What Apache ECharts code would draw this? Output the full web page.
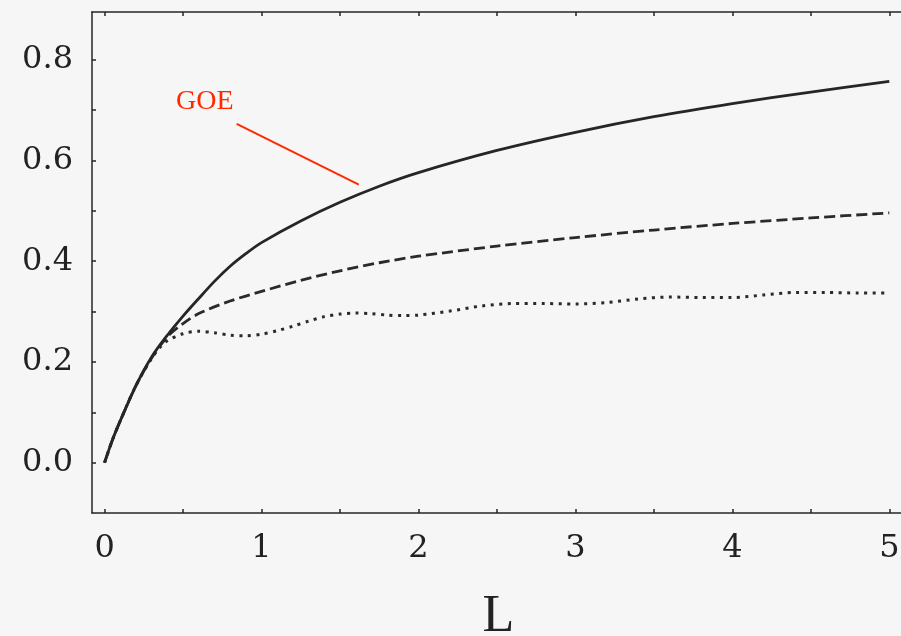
<!DOCTYPE html>
<html>
<head>
<meta charset="utf-8">
<script src="https://cdn.jsdelivr.net/npm/echarts@6/dist/echarts.min.js"></script>
<style>
  html, body { margin: 0; padding: 0; background: #f6f6f6; }
  #chart { width: 901px; height: 636px; }
</style>
</head>
<body>
<div id="chart"></div>
<script>
// L on x, variance on y
const goeL = [0, 0.05, 0.1, 0.2, 0.3, 0.4, 0.5, 0.6, 0.7, 0.8, 0.9, 1.0, 1.25, 1.5, 1.75, 2.0, 2.5, 3.0, 3.5, 4.0, 4.5, 5.0];
const goeV = [0, 0.045, 0.083, 0.153, 0.21, 0.253, 0.291, 0.326, 0.36, 0.39, 0.415, 0.437, 0.48, 0.517, 0.549, 0.576, 0.62, 0.656, 0.687, 0.713, 0.736, 0.757];

const dashL = [0, 0.05, 0.1, 0.2, 0.3, 0.4, 0.5, 0.6, 0.8, 1.0, 1.25, 1.5, 1.75, 2.0, 2.5, 3.0, 3.5, 4.0, 4.5, 5.0];
const dashV = [0, 0.045, 0.083, 0.153, 0.208, 0.25, 0.276, 0.296, 0.321, 0.34, 0.362, 0.381, 0.397, 0.41, 0.43, 0.447, 0.462, 0.475, 0.486, 0.496];

const dotL = [0, 0.05, 0.1, 0.2, 0.3, 0.35, 0.4, 0.5, 0.6, 0.7, 0.8, 0.9, 1.0, 1.1, 1.2, 1.3, 1.4, 1.5, 1.6, 1.7, 1.8, 1.9, 2.0, 2.2, 2.4, 2.6, 2.8, 3.0, 3.2, 3.4, 3.6, 3.8, 4.0, 4.2, 4.4, 4.6, 4.8, 5.0];
const dotV = [0, 0.045, 0.083, 0.153, 0.207, 0.228, 0.242, 0.256, 0.261, 0.258, 0.253, 0.252, 0.255, 0.262, 0.271, 0.281, 0.29, 0.295, 0.297, 0.296, 0.293, 0.292, 0.293, 0.301, 0.311, 0.316, 0.316, 0.315, 0.318, 0.325, 0.329, 0.328, 0.328, 0.333, 0.338, 0.338, 0.337, 0.337];

const xTicks = [0, 0.5, 1, 1.5, 2, 2.5, 3, 3.5, 4, 4.5, 5];
const xLabels = [0, 1, 2, 3, 4, 5];
const yTicks = [0, 0.1, 0.2, 0.3, 0.4, 0.5, 0.6, 0.7, 0.8];
const yLabels = [0, 0.2, 0.4, 0.6, 0.8];

const zip = (xs, ys) => xs.map((x, i) => [x, ys[i]]);

const ink = "#262626";
const labelFont = { fontFamily: "DejaVu Serif", fontSize: 32, color: "#222" };

const chart = echarts.init(document.getElementById("chart"), null, { renderer: "canvas" });

chart.setOption({
  backgroundColor: "#f6f6f6",
  animation: false,
  grid: { left: 92, right: -4, top: 12, bottom: 123, outerBoundsMode: "none", containLabel: false },
  xAxis: [
    {
      type: "value",
      min: -0.08,
      max: 5.1,
      position: "bottom",
      name: "L",
      nameLocation: "middle",
      nameGap: 78,
      nameTextStyle: { fontFamily: "Liberation Serif", fontSize: 52, color: "#222" },
      axisLine: { show: true, onZero: false, lineStyle: { color: ink, width: 1.5 } },
      axisTick: { inside: true, length: 4, customValues: xTicks, lineStyle: { color: ink, width: 1.5 } },
      axisLabel: { customValues: xLabels, margin: 20, ...labelFont },
      splitLine: { show: false },
    },
    {
      type: "value",
      min: -0.08,
      max: 5.1,
      position: "top",
      axisLine: { show: true, onZero: false, lineStyle: { color: ink, width: 1.5 } },
      axisTick: { inside: true, length: 4, customValues: xTicks, lineStyle: { color: ink, width: 1.5 } },
      axisLabel: { show: false },
      splitLine: { show: false },
    },
  ],
  yAxis: {
    type: "value",
    min: -0.1,
    max: 0.895,
    axisLine: { show: true, onZero: false, lineStyle: { color: ink, width: 1.5 } },
    axisTick: { inside: true, length: 4, customValues: yTicks, lineStyle: { color: ink, width: 1.5 } },
    axisLabel: {
      customValues: yLabels,
      margin: 19,
      formatter: (v) => v.toFixed(1),
      ...labelFont,
    },
    splitLine: { show: false },
  },
  graphic: [
    {
      type: "text",
      left: 176,
      top: 88,
      style: { text: "GOE", fill: "#ff2a00", font: "28px 'Liberation Serif'" },
    },
  ],
  series: [
    {
      name: "dotted",
      type: "line",
      data: zip(dotL, dotV),
      smooth: 0.3,
      showSymbol: false,
      lineStyle: { color: "#2a2a2a", width: 3, type: [3, 5.5], cap: "butt" },
    },
    {
      name: "dashed",
      type: "line",
      data: zip(dashL, dashV),
      smooth: 0.3,
      showSymbol: false,
      lineStyle: { color: "#2a2a2a", width: 2.8, type: [11, 5], cap: "butt" },
    },
    {
      name: "GOE",
      type: "line",
      data: zip(goeL, goeV),
      smooth: 0.3,
      showSymbol: false,
      lineStyle: { color: ink, width: 2.8 },
      markLine: {
        silent: true,
        symbol: "none",
        label: { show: false },
        lineStyle: { color: "#ff2a00", width: 2, type: "solid" },
        data: [[{ coord: [0.842, 0.673] }, { coord: [1.62, 0.552] }]],
      },
    },
  ],
});
</script>
</body>
</html>
